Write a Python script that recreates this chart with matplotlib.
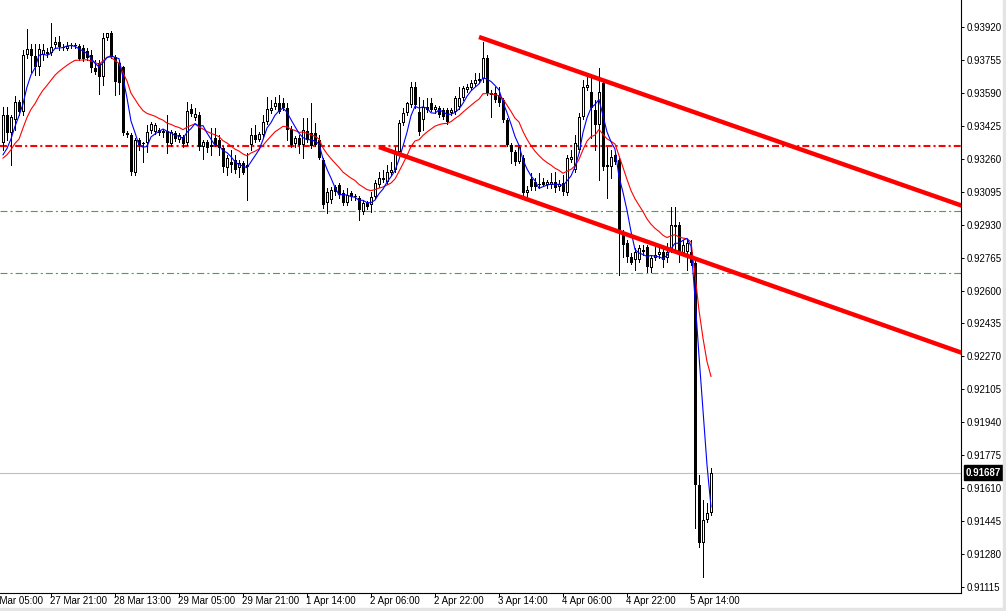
import numpy as np
import pandas as pd
import matplotlib
matplotlib.use("Agg")
import matplotlib.pyplot as plt
import matplotlib.transforms as mtransforms
from matplotlib.patches import Rectangle

# H1 candles, 27 Mar 09:00 .. 5 Apr 19:00 (bar index 0..177)
opens = [
    0.93339, 0.93479, 0.93389, 0.93454, 0.93544, 0.93494, 0.93779, 0.93810, 0.93774, 0.93719,
    0.93779, 0.93794, 0.93789, 0.93830, 0.93845, 0.93820, 0.93810, 0.93825, 0.93830, 0.93825,
    0.93815, 0.93799, 0.93779, 0.93714, 0.93739, 0.93669, 0.93865, 0.93890, 0.93769, 0.93739,
    0.93719, 0.93389, 0.93379, 0.93188, 0.93354, 0.93334, 0.93339, 0.93399, 0.93394, 0.93404,
    0.93389, 0.93399, 0.93334, 0.93389, 0.93354, 0.93369, 0.93339, 0.93509, 0.93464, 0.93479,
    0.93319, 0.93344, 0.93319, 0.93364, 0.93354, 0.93314, 0.93213, 0.93243, 0.93253, 0.93213,
    0.93238, 0.93228, 0.93329, 0.93379, 0.93354, 0.93379, 0.93444, 0.93499, 0.93519, 0.93539,
    0.93539, 0.93514, 0.93409, 0.93334, 0.93364, 0.93329, 0.93399, 0.93389, 0.93389, 0.93354,
    0.93253, 0.93038, 0.93053, 0.93118, 0.93128, 0.93088, 0.93038, 0.93088, 0.93068, 0.93063,
    0.92993, 0.93038, 0.93028, 0.93068, 0.93128, 0.93163, 0.93143, 0.93188, 0.93203, 0.93293,
    0.93439, 0.93489, 0.93529, 0.93619, 0.93494, 0.93454, 0.93519, 0.93539, 0.93504, 0.93514,
    0.93504, 0.93504, 0.93489, 0.93494, 0.93519, 0.93564, 0.93604, 0.93614, 0.93634, 0.93659,
    0.93659, 0.93764, 0.93589, 0.93589, 0.93579, 0.93554, 0.93454, 0.93329, 0.93293, 0.93243,
    0.93263, 0.93088, 0.93158, 0.93143, 0.93128, 0.93143, 0.93128, 0.93128, 0.93143, 0.93118,
    0.93138, 0.93088, 0.93253, 0.93203, 0.93303, 0.93469, 0.93614, 0.93594, 0.93504, 0.93429,
    0.93639, 0.93228, 0.93218, 0.93278, 0.93253, 0.92878, 0.92838, 0.92767, 0.92752, 0.92752,
    0.92803, 0.92818, 0.92712, 0.92762, 0.92777, 0.92793, 0.92762, 0.92803, 0.92928, 0.92928,
    0.92787, 0.92793, 0.92793, 0.92737, 0.91625, 0.91335, 0.91450, 0.91485,
]
highs = [
    0.93519, 0.93519, 0.93479, 0.93574, 0.93554, 0.93805, 0.93910, 0.93835, 0.93835, 0.93835,
    0.93835, 0.93815, 0.93940, 0.93870, 0.93875, 0.93835, 0.93845, 0.93840, 0.93840, 0.93835,
    0.93830, 0.93815, 0.93805, 0.93754, 0.93754, 0.93890, 0.93890, 0.93900, 0.93779, 0.93754,
    0.93724, 0.93399, 0.93389, 0.93364, 0.93364, 0.93344, 0.93429, 0.93444, 0.93439, 0.93414,
    0.93409, 0.93479, 0.93404, 0.93399, 0.93389, 0.93379, 0.93544, 0.93534, 0.93514, 0.93494,
    0.93354, 0.93354, 0.93414, 0.93414, 0.93379, 0.93324, 0.93278, 0.93303, 0.93278, 0.93253,
    0.93248, 0.93288, 0.93414, 0.93429, 0.93394, 0.93479, 0.93569, 0.93554, 0.93569, 0.93579,
    0.93564, 0.93539, 0.93424, 0.93374, 0.93379, 0.93464, 0.93464, 0.93539, 0.93439, 0.93379,
    0.93263, 0.93113, 0.93118, 0.93128, 0.93138, 0.93103, 0.93113, 0.93098, 0.93083, 0.93073,
    0.93053, 0.93048, 0.93093, 0.93153, 0.93193, 0.93203, 0.93228, 0.93243, 0.93319, 0.93454,
    0.93514, 0.93544, 0.93644, 0.93644, 0.93569, 0.93554, 0.93564, 0.93564, 0.93529, 0.93524,
    0.93514, 0.93514, 0.93514, 0.93574, 0.93619, 0.93624, 0.93634, 0.93654, 0.93689, 0.93689,
    0.93845, 0.93779, 0.93604, 0.93619, 0.93619, 0.93564, 0.93464, 0.93339, 0.93303, 0.93329,
    0.93278, 0.93123, 0.93188, 0.93163, 0.93188, 0.93163, 0.93153, 0.93188, 0.93193, 0.93153,
    0.93178, 0.93278, 0.93303, 0.93379, 0.93489, 0.93654, 0.93689, 0.93669, 0.93554, 0.93714,
    0.93654, 0.93319, 0.93303, 0.93293, 0.93263, 0.92903, 0.92853, 0.92787, 0.92813, 0.92828,
    0.92828, 0.92828, 0.92777, 0.92818, 0.92813, 0.92813, 0.92838, 0.93018, 0.93018, 0.92943,
    0.92853, 0.92853, 0.92853, 0.92762, 0.91675, 0.91550, 0.91535, 0.91710,
]
lows = [
    0.93303, 0.93354, 0.93228, 0.93404, 0.93479, 0.93479, 0.93764, 0.93694, 0.93679, 0.93679,
    0.93754, 0.93769, 0.93779, 0.93815, 0.93805, 0.93805, 0.93805, 0.93815, 0.93815, 0.93754,
    0.93749, 0.93754, 0.93694, 0.93684, 0.93584, 0.93629, 0.93855, 0.93764, 0.93579, 0.93584,
    0.93379, 0.93369, 0.93178, 0.93178, 0.93303, 0.93243, 0.93293, 0.93389, 0.93384, 0.93379,
    0.93369, 0.93288, 0.93324, 0.93349, 0.93344, 0.93319, 0.93329, 0.93474, 0.93454, 0.93303,
    0.93258, 0.93293, 0.93278, 0.93324, 0.93278, 0.93193, 0.93178, 0.93193, 0.93188, 0.93168,
    0.93183, 0.93053, 0.93303, 0.93344, 0.93349, 0.93369, 0.93434, 0.93489, 0.93509, 0.93489,
    0.93504, 0.93354, 0.93319, 0.93319, 0.93288, 0.93263, 0.93344, 0.93314, 0.93324, 0.93258,
    0.93013, 0.92988, 0.93038, 0.93078, 0.93063, 0.93028, 0.93028, 0.93053, 0.93053, 0.92953,
    0.92983, 0.93008, 0.92993, 0.93058, 0.93118, 0.93143, 0.93133, 0.93178, 0.93193, 0.93278,
    0.93429, 0.93479, 0.93519, 0.93514, 0.93379, 0.93404, 0.93494, 0.93499, 0.93489, 0.93469,
    0.93459, 0.93434, 0.93479, 0.93484, 0.93509, 0.93554, 0.93594, 0.93604, 0.93624, 0.93639,
    0.93644, 0.93579, 0.93469, 0.93544, 0.93524, 0.93444, 0.93324, 0.93238, 0.93228, 0.93238,
    0.93068, 0.93068, 0.93103, 0.93103, 0.93113, 0.93123, 0.93113, 0.93113, 0.93093, 0.93103,
    0.93078, 0.93078, 0.93243, 0.93193, 0.93293, 0.93459, 0.93604, 0.93364, 0.93303, 0.93153,
    0.93203, 0.93063, 0.93163, 0.93233, 0.92677, 0.92767, 0.92742, 0.92732, 0.92702, 0.92742,
    0.92777, 0.92692, 0.92692, 0.92752, 0.92762, 0.92717, 0.92742, 0.92793, 0.92803, 0.92742,
    0.92777, 0.92702, 0.92727, 0.91410, 0.91315, 0.91164, 0.91440, 0.91475,
]
closes = [
    0.93479, 0.93389, 0.93469, 0.93544, 0.93494, 0.93779, 0.93810, 0.93774, 0.93719, 0.93810,
    0.93805, 0.93784, 0.93820, 0.93845, 0.93820, 0.93815, 0.93825, 0.93830, 0.93825, 0.93759,
    0.93759, 0.93764, 0.93714, 0.93694, 0.93669, 0.93865, 0.93890, 0.93769, 0.93644, 0.93639,
    0.93389, 0.93379, 0.93193, 0.93354, 0.93329, 0.93336, 0.93394, 0.93434, 0.93429, 0.93389,
    0.93399, 0.93339, 0.93394, 0.93359, 0.93379, 0.93334, 0.93499, 0.93484, 0.93484, 0.93319,
    0.93344, 0.93314, 0.93329, 0.93329, 0.93314, 0.93218, 0.93263, 0.93228, 0.93203, 0.93238,
    0.93188, 0.93218, 0.93379, 0.93354, 0.93384, 0.93444, 0.93509, 0.93514, 0.93539, 0.93494,
    0.93514, 0.93404, 0.93329, 0.93364, 0.93329, 0.93404, 0.93354, 0.93324, 0.93329, 0.93263,
    0.93028, 0.93093, 0.93103, 0.93093, 0.93078, 0.93038, 0.93078, 0.93068, 0.93073, 0.93003,
    0.93038, 0.93018, 0.93068, 0.93138, 0.93163, 0.93153, 0.93193, 0.93203, 0.93293, 0.93439,
    0.93489, 0.93539, 0.93619, 0.93529, 0.93394, 0.93519, 0.93504, 0.93504, 0.93519, 0.93479,
    0.93469, 0.93444, 0.93504, 0.93564, 0.93564, 0.93614, 0.93619, 0.93639, 0.93654, 0.93649,
    0.93764, 0.93589, 0.93579, 0.93554, 0.93539, 0.93454, 0.93329, 0.93293, 0.93243, 0.93319,
    0.93088, 0.93103, 0.93118, 0.93118, 0.93133, 0.93128, 0.93143, 0.93143, 0.93113, 0.93133,
    0.93093, 0.93263, 0.93268, 0.93339, 0.93469, 0.93619, 0.93629, 0.93514, 0.93429, 0.93594,
    0.93218, 0.93218, 0.93268, 0.93243, 0.92903, 0.92828, 0.92767, 0.92737, 0.92793, 0.92813,
    0.92793, 0.92717, 0.92762, 0.92777, 0.92793, 0.92752, 0.92793, 0.92928, 0.92918, 0.92793,
    0.92828, 0.92838, 0.92737, 0.91625, 0.91335, 0.91450, 0.91485, 0.91687,
]
# closes before the visible window (only used to start the moving averages)
warmup_closes = [0.9323, 0.9323, 0.9323, 0.9323]

time_ticks = [-4, 12, 28, 44, 60, 76, 92, 108, 124, 140, 156, 172]
time_labels = ['27 Mar 05:00', '27 Mar 21:00', '28 Mar 13:00', '29 Mar 05:00', '29 Mar 21:00',
               '1 Apr 14:00', '2 Apr 06:00', '2 Apr 22:00', '3 Apr 14:00', '4 Apr 06:00',
               '4 Apr 22:00', '5 Apr 14:00']
price_ticks = [0.91115, 0.91280, 0.91445, 0.91610, 0.91775, 0.91940, 0.92105, 0.92270, 0.92435,
               0.92600, 0.92765, 0.92930, 0.93095, 0.93260, 0.93425, 0.93590, 0.93755, 0.93920]

# drawn objects: horizontal levels and channel (bar index, price) anchors
red_level = 0.93324
green_levels = [0.92998, 0.92688]
upper_channel = ([119, 240], [0.93870, 0.93023])
lower_channel = ([94, 240], [0.93319, 0.92286])
last_price = 0.91687

plt.rcParams['font.family'] = ['Liberation Sans', 'DejaVu Sans']
plt.rcParams['font.size'] = 7
plt.rcParams['lines.scale_dashes'] = False

W, H = 1006, 611
fig = plt.figure(figsize=(W / 100, H / 100), dpi=100)
ax = fig.add_axes([0, 18 / H, 961 / W, 593 / H])
ymin, ymax = 0.91085, 0.940552
px = (ymax - ymin) / 593  # price per screen pixel

idx = np.arange(len(closes))
o = np.array(opens)
c = np.array(closes)
hi = np.array(highs)
lo = np.array(lows)

# moving averages: SMA(5) blue, EMA(14) red
hist = pd.Series(warmup_closes + closes)
sma5 = hist.rolling(5).mean().iloc[len(warmup_closes):].values
ema14 = hist.ewm(span=14, adjust=False).mean().iloc[len(warmup_closes):].values

# levels behind candles
ax.axhline(red_level, color='#FF0000', lw=1.5, dashes=(5, 2.2, 1.5, 2.2), zorder=1)
for lv in green_levels:
    ax.axhline(lv, color='#32B432', lw=0.8, dashes=(5, 2.2, 1.5, 2.2), zorder=1)
ax.axhline(last_price, color='#C0C0C0', lw=0.8, zorder=1)

# candles: wick, black outer body, white inside for bull bars
ax.vlines(idx, lo, hi, color='black', lw=0.72, zorder=2, antialiased=False)
body_bottom = np.minimum(o, c)
body_height = np.maximum(np.abs(c - o), px)
ax.bar(idx, body_height, bottom=body_bottom, width=0.75, color='black',
       lw=0, zorder=3, antialiased=False)
up = (c > o) & (c - o > 2.5 * px)
ax.bar(idx[up], (c - o)[up] - 2 * px, bottom=o[up] + px, width=0.25, color='white',
       lw=0, zorder=4, antialiased=False)

ax.plot(idx, ema14, color='#FF0000', lw=0.8, zorder=5)
ax.plot(idx, sma5, color='#0000FF', lw=0.8, zorder=6)

# channel
ax.plot(*upper_channel, color='#FF0000', lw=3.2, solid_capstyle='butt', zorder=7)
ax.plot(*lower_channel, color='#FF0000', lw=3.2, solid_capstyle='butt', zorder=7)

ax.set_xlim(-0.75, 239.5)
ax.set_ylim(ymin, ymax)

for side in ['top', 'left']:
    ax.spines[side].set_visible(False)
for side in ['right', 'bottom']:
    ax.spines[side].set_linewidth(0.8)

ax.yaxis.tick_right()
ax.set_yticks(price_ticks)
ax.set_yticklabels(['%.5f' % p for p in price_ticks])
ax.tick_params(axis='y', direction='out', length=2.5, width=0.7, pad=1.5, labelsize=7)

ax.set_xticks(time_ticks[1:])
ax.set_xticklabels(time_labels[1:])
ax.tick_params(axis='x', direction='out', length=3, width=0.7, pad=-0.5, labelsize=7)
shift = mtransforms.ScaledTranslation(-1 / 100, 0, fig.dpi_scale_trans)
for lab in ax.get_xticklabels():
    lab.set_ha('left')
    lab.set_transform(lab.get_transform() + shift)
# first label starts left of the visible area
first_trans = ax.get_xaxis_transform() + mtransforms.ScaledTranslation(-1 / 100, -3.5 / 100, fig.dpi_scale_trans)
ax.text(time_ticks[0], 0, time_labels[0], transform=first_trans,
        ha='left', va='top', fontsize=7, clip_on=False)

# current price box
price_trans = mtransforms.blended_transform_factory(ax.transAxes, ax.transData)
ax.text(1.0 + 5 / 961, last_price, '%.5f' % last_price, transform=price_trans,
        ha='left', va='center', color='white', fontsize=7, fontweight='bold',
        bbox=dict(boxstyle='square,pad=0.25', fc='black', ec='black'))

# light frame of the chart window
fig.patches.append(Rectangle((0, 0), 1, 3 / H, transform=fig.transFigure, color='#E4E4E4', zorder=0))
fig.patches.append(Rectangle((1 - 3 / W, 0), 3 / W, 1, transform=fig.transFigure, color='#E4E4E4', zorder=0))

fig.savefig('out.png', dpi=100)
